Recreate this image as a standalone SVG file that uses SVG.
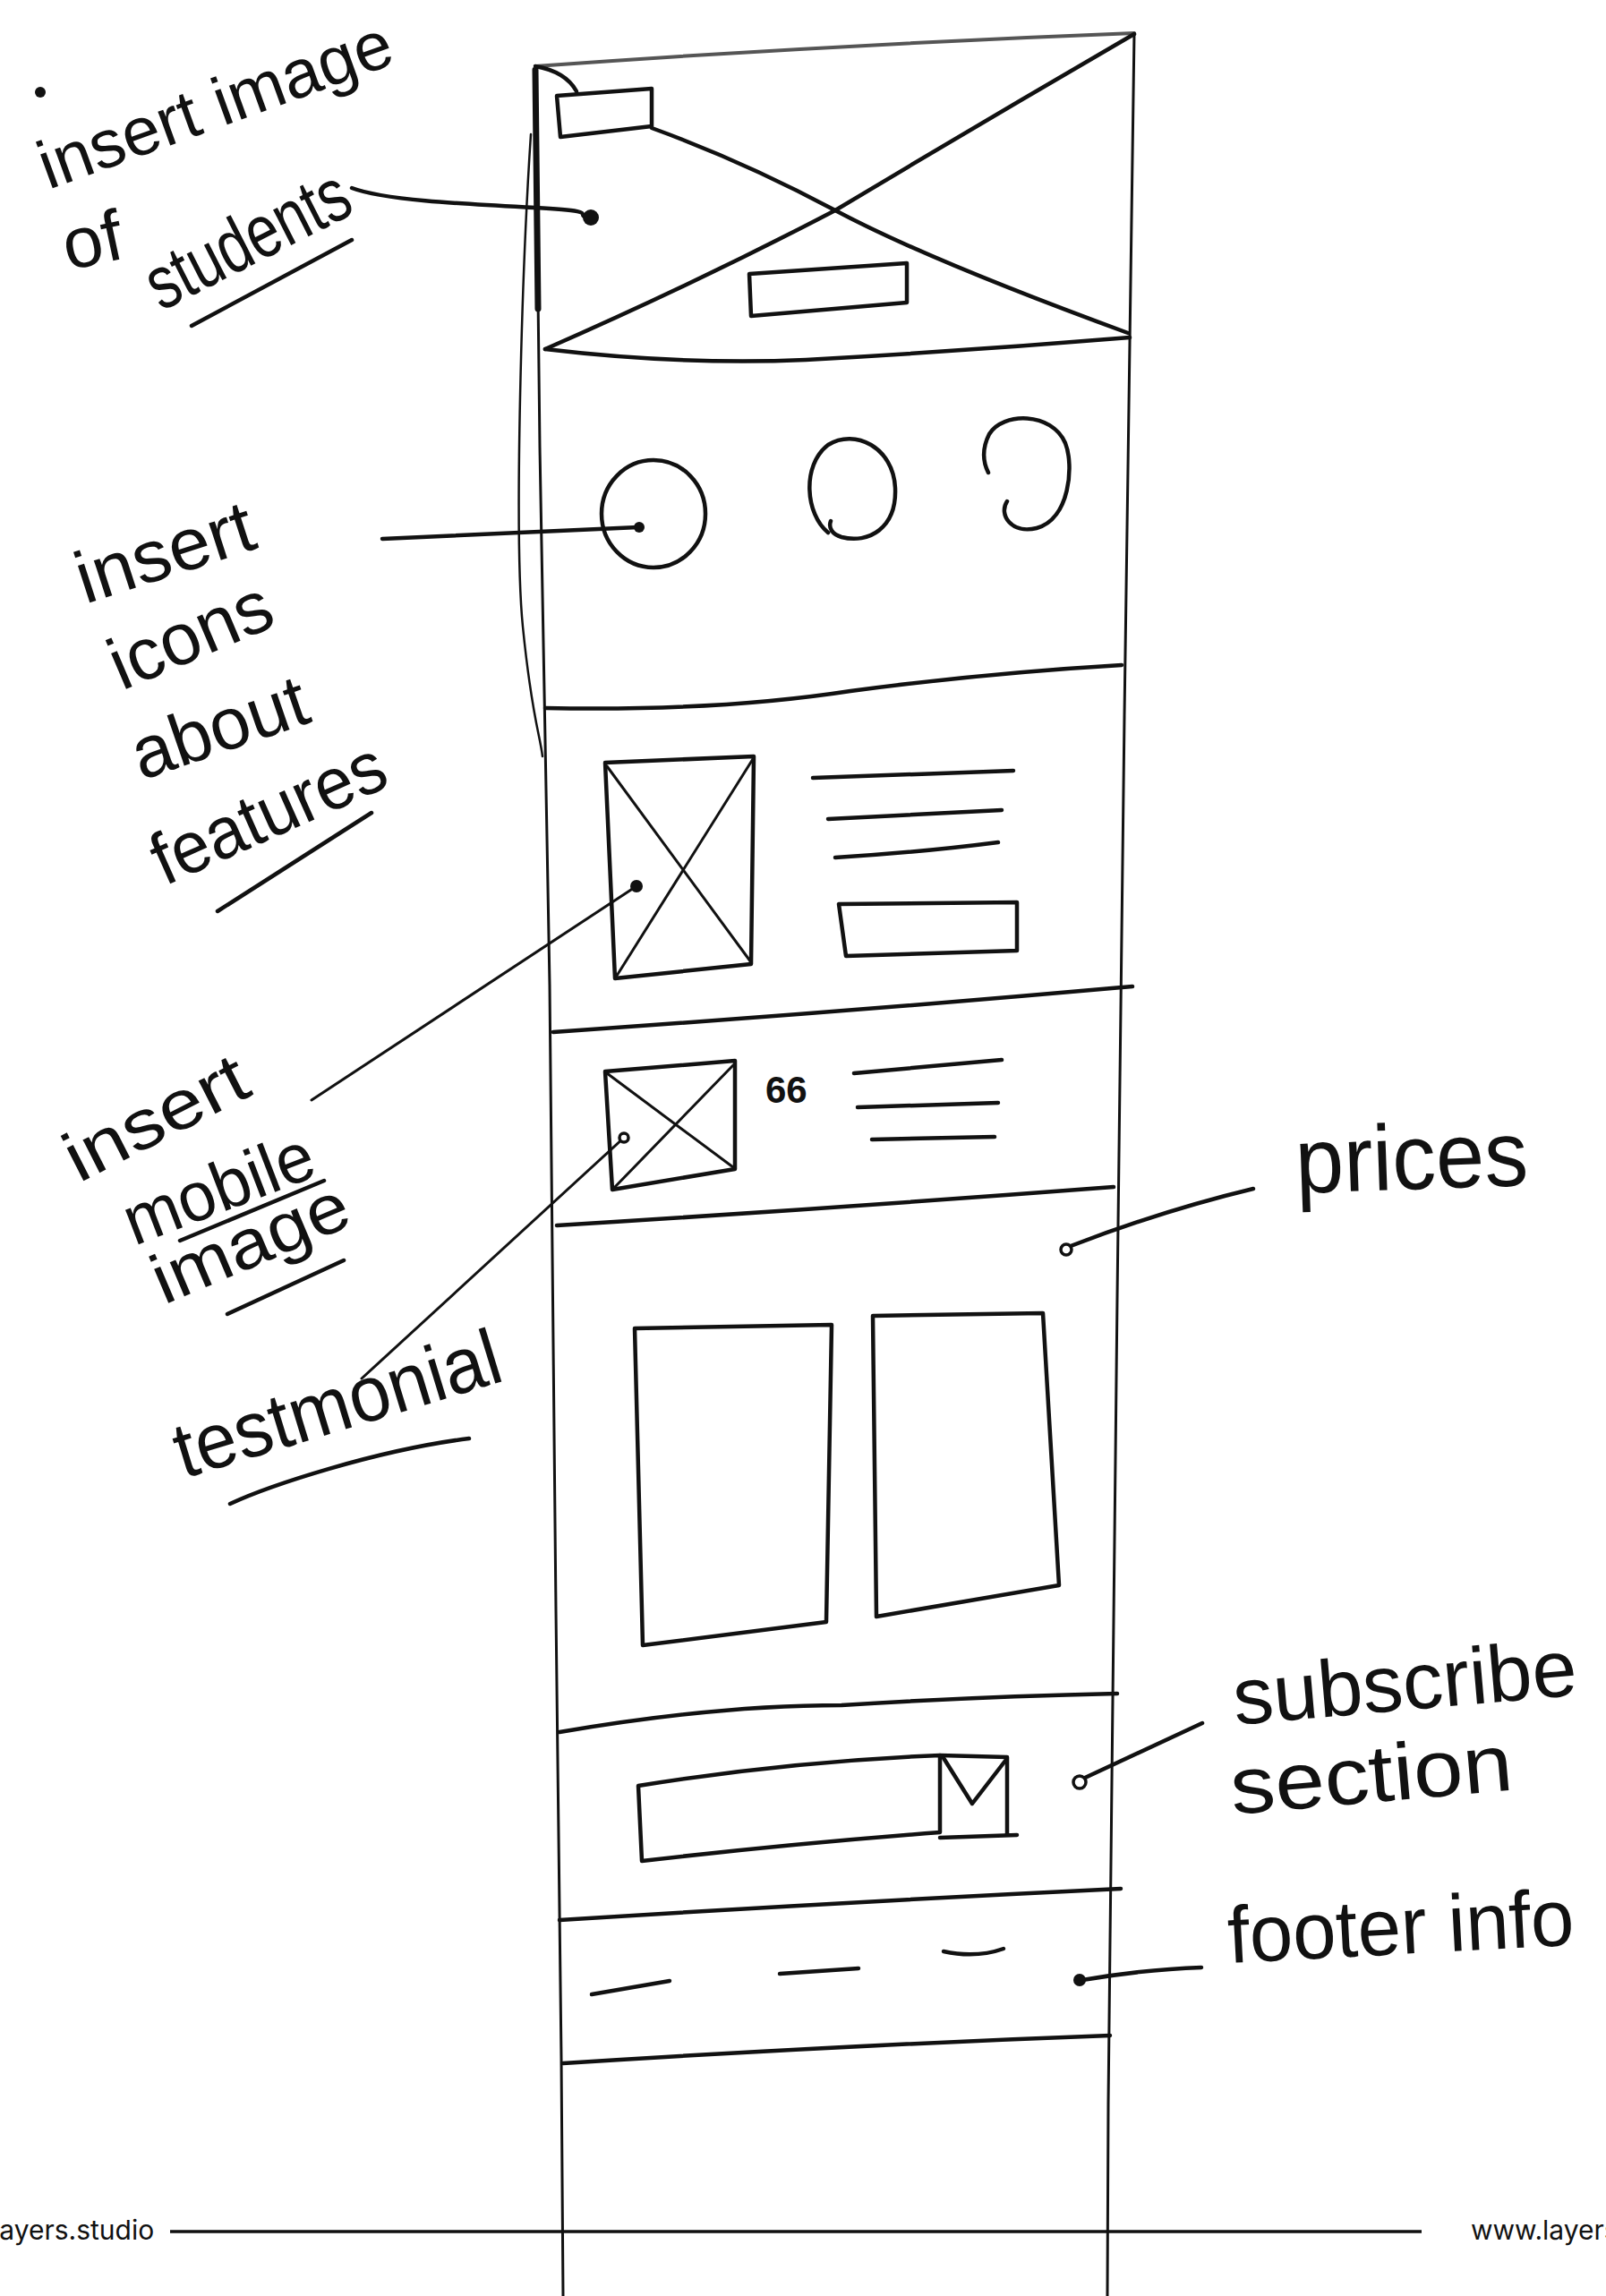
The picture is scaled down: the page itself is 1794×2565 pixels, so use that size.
<svg xmlns="http://www.w3.org/2000/svg" width="1794" height="2565" viewBox="0 0 1794 2565">
<style>
.s{fill:none;stroke:#111;stroke-width:4.5;stroke-linecap:round;stroke-linejoin:round}
.thin{fill:none;stroke:#111;stroke-width:3;stroke-linecap:round;stroke-linejoin:round}
.dot{fill:#111}
.hdot{fill:#fff;stroke:#111;stroke-width:3.5}
.hand{font-family:"Liberation Sans",Arial,sans-serif;fill:#111}
.foot{font-family:Inter,"Liberation Sans",Arial,sans-serif;font-size:30px;fill:#111}
</style>
<rect x="0" y="0" width="1794" height="2565" fill="#fff"/>

<g id="frame">
  <path class="thin" d="M598,74 L603,500 L614,1100 L621,1800 L627,2300 L629,2565"/>
  <path class="s" style="stroke-width:7" d="M598,78 L601,345"/>
  <path class="thin" style="stroke-width:2.5" d="M593,150 C583,300 574,600 584,700 S603,820 606,845"/>
  <path class="thin" d="M1267,37 L1256,800 L1248,1450 L1238,2350 L1237,2565"/>
  <path class="s" style="stroke:#555;stroke-width:4" d="M598,74 Q930,50 1267,37"/>
</g>

<g id="hero">
  <path class="s" d="M598,74 Q632,80 644,102"/>
  <path class="s" d="M622,107 L728,99 L728,141 L626,153 Z"/>
  <path class="s" d="M728,143 Q830,180 933,235 T1260,372"/>
  <path class="s" d="M1267,38 Q1100,135 933,235 Q780,315 609,390"/>
  <path class="s" d="M837,306 L1013,294 L1013,338 L839,353 Z"/>
  <path class="s" d="M609,390 Q760,408 900,402 Q1080,392 1262,377"/>
</g>

<g id="icons">
  <ellipse class="s" cx="730" cy="574" rx="58" ry="60"/>
  <path class="s" d="M925,595 C900,575 895,520 925,497 C955,478 998,500 1000,545 C1002,590 970,608 940,600 C930,597 925,590 928,582"/>
  <path class="s" d="M1125,560 C1115,575 1130,597 1158,590 C1195,580 1200,520 1190,495 C1175,460 1120,460 1105,485 C1095,505 1100,520 1104,528"/>
  <path class="s" d="M609,791 Q800,795 950,772 Q1100,752 1253,743"/>
</g>

<g id="features">
  <path class="s" d="M676,852 L842,845 L839,1077 L687,1093 Z"/>
  <path class="thin" d="M678,856 L839,1075 M841,848 L689,1090"/>
  <path class="s" d="M908,869 L1132,861"/>
  <path class="s" d="M925,915 L1119,905"/>
  <path class="s" d="M933,958 Q1030,952 1115,941"/>
  <path class="s" d="M937,1010 L1136,1008 L1136,1062 L945,1068 Z"/>
  <path class="s" d="M618,1153 Q950,1130 1265,1102"/>
</g>

<g id="testimonial">
  <path class="s" d="M676,1197 L821,1185 L821,1306 L684,1329 Z"/>
  <path class="thin" d="M678,1199 L819,1304 M819,1190 L686,1327"/>
  <text x="855" y="1232" style="font-family:'Liberation Sans',Arial,sans-serif;font-size:42px;font-weight:bold;fill:#111">66</text>
  <path class="s" d="M954,1199 L1119,1184"/>
  <path class="s" d="M958,1237 L1115,1232"/>
  <path class="s" d="M974,1273 L1111,1270"/>
  <path class="s" d="M622,1369 Q930,1350 1244,1326"/>
</g>

<g id="pricing">
  <path class="s" d="M709,1484 L929,1480 L923,1812 L718,1838 Z"/>
  <path class="s" d="M975,1470 L1165,1467 L1183,1771 L979,1806 Z"/>
  <path class="s" d="M625,1935 Q800,1905 940,1905 Q1100,1895 1248,1892"/>
</g>

<g id="subscribe">
  <path class="s" d="M713,1995 Q880,1968 1050,1961 L1050,2047 Q880,2060 717,2079 Z"/>
  <path class="s" d="M1050,1961 L1125,1963 L1125,2050 M1050,2053 L1136,2050"/>
  <path class="s" d="M1054,1964 L1086,2015 L1123,1967"/>
  <path class="s" d="M625,2145 Q940,2125 1252,2110"/>
</g>

<g id="footer">
  <path class="s" d="M661,2228 L748,2213"/>
  <path class="s" d="M871,2205 L959,2199"/>
  <path class="s" d="M1054,2180 Q1090,2188 1121,2177"/>
  <path class="s" d="M629,2305 Q940,2285 1240,2274"/>
</g>

<g id="connectors">
  <path class="s" d="M393,210 C430,224 520,228 598,232 S640,240 656,243"/>
  <circle class="dot" cx="660" cy="243" r="9"/>
  <path class="s" d="M427,602 L713,589"/>
  <circle class="dot" cx="714" cy="589" r="6"/>
  <path class="thin" d="M348,1229 L711,990"/>
  <circle class="dot" cx="711" cy="990" r="7"/>
  <path class="thin" d="M404,1540 L697,1271"/>
  <circle class="hdot" cx="697" cy="1271" r="5"/>
  <path class="s" d="M1196,1392 Q1300,1352 1400,1328"/>
  <circle class="hdot" cx="1191" cy="1396" r="6"/>
  <path class="s" d="M1212,1986 L1343,1925"/>
  <circle class="hdot" cx="1206" cy="1991" r="7"/>
  <path class="s" d="M1209,2212 Q1280,2200 1342,2198"/>
  <circle class="dot" cx="1206" cy="2212" r="7"/>
</g>

<g id="label-students">
  <circle class="dot" cx="45" cy="103" r="6"/>
  <text class="hand" transform="translate(54,212) rotate(-20)" font-size="76" textLength="415" lengthAdjust="spacingAndGlyphs">insert image</text>
  <text class="hand" transform="translate(76,302) rotate(-12)" font-size="80">of</text>
  <text class="hand" transform="translate(180,348) rotate(-27)" font-size="84" textLength="245" lengthAdjust="spacingAndGlyphs">students</text>
  <path class="s" d="M214,364 L393,268"/>
</g>

<g id="label-icons">
  <text class="hand" transform="translate(95,675) rotate(-18)" font-size="82" textLength="205" lengthAdjust="spacingAndGlyphs">insert</text>
  <text class="hand" transform="translate(136,772) rotate(-23)" font-size="82" textLength="190" lengthAdjust="spacingAndGlyphs">icons</text>
  <text class="hand" transform="translate(158,872) rotate(-19)" font-size="82" textLength="203" lengthAdjust="spacingAndGlyphs">about</text>
  <text class="hand" transform="translate(184,990) rotate(-24)" font-size="82" textLength="278" lengthAdjust="spacingAndGlyphs">features</text>
  <path class="s" d="M243,1018 L415,908"/>
</g>

<g id="label-mobile">
  <text class="hand" transform="translate(88,1322) rotate(-27)" font-size="78" textLength="220" lengthAdjust="spacingAndGlyphs">insert</text>
  <text class="hand" transform="translate(150,1392) rotate(-21)" font-size="78" textLength="222" lengthAdjust="spacingAndGlyphs">mobile</text>
  <text class="hand" transform="translate(183,1458) rotate(-23)" font-size="78" textLength="232" lengthAdjust="spacingAndGlyphs">image</text>
  <path class="s" d="M201,1386 L362,1319"/>
  <path class="s" d="M254,1468 L384,1408"/>
</g>

<g id="label-testimonial">
  <text class="hand" transform="translate(205,1652) rotate(-17)" font-size="88" textLength="377" lengthAdjust="spacingAndGlyphs">testmonial</text>
  <path class="s" d="M257,1680 C300,1660 420,1620 524,1607"/>
</g>

<g id="label-prices">
  <text class="hand" transform="translate(1448,1333) rotate(-2)" font-size="104" textLength="260" lengthAdjust="spacingAndGlyphs">prices</text>
</g>

<g id="label-subscribe">
  <text class="hand" transform="translate(1380,1927) rotate(-5)" font-size="90" textLength="385" lengthAdjust="spacingAndGlyphs">subscribe</text>
  <text class="hand" transform="translate(1377,2027) rotate(-5)" font-size="90" textLength="316" lengthAdjust="spacingAndGlyphs">section</text>
</g>

<g id="label-footer">
  <text class="hand" transform="translate(1373,2193) rotate(-3)" font-size="90" textLength="387" lengthAdjust="spacingAndGlyphs">footer info</text>
</g>

<g id="page-footer">
  <path d="M190,2493 L1588,2493" stroke="#111" stroke-width="3.5" fill="none"/>
  <text class="foot" x="-8" y="2502">layers.studio</text>
  <text class="foot" x="1643" y="2502">www.layers.studio</text>
</g>
</svg>
